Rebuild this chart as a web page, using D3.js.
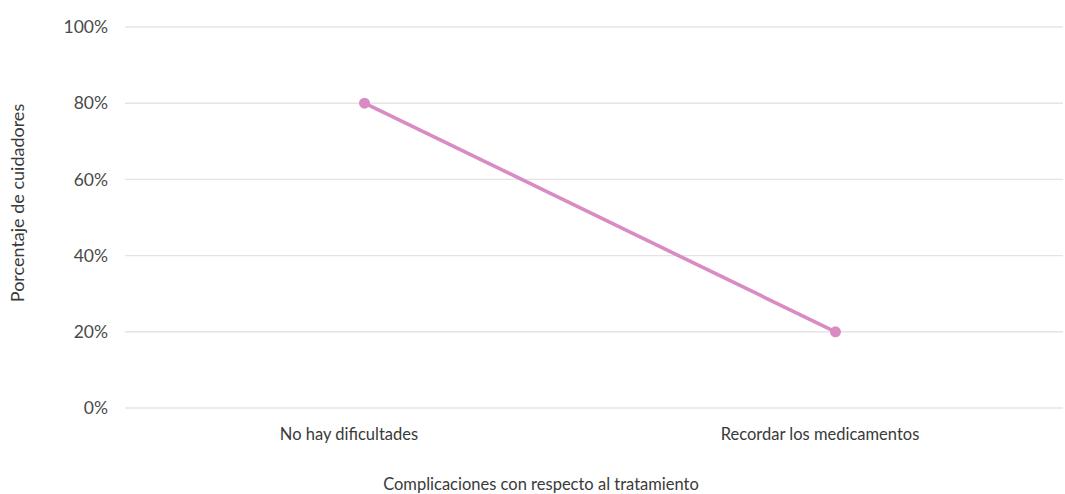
<!DOCTYPE html>
<html>
<head>
<meta charset="utf-8">
<script src="https://cdn.jsdelivr.net/npm/d3@7/dist/d3.min.js"></script>
<style>
  html, body { margin: 0; padding: 0; background: #ffffff; }
  svg { display: block; font-family: Lato, "Open Sans", sans-serif; }
</style>
</head>
<body>
<svg id="chart" width="1065" height="494"></svg>
<script>
// Data
const categories = ["No hay dificultades", "Recordar los medicamentos"];
const values = [0.80, 0.20];
const yTicks = [0, 0.2, 0.4, 0.6, 0.8, 1.0];
const xTitle = "Complicaciones con respecto al tratamiento";
const yTitle = "Porcentaje de cuidadores";

const svg = d3.select("#chart");
const margin = { left: 129, right: -6, top: 27, bottom: 86 };
const W = 1065, H = 494;

const x = d3.scalePoint()
  .domain(categories)
  .range([margin.left, W - margin.right])
  .padding(0.5);

const y = d3.scaleLinear()
  .domain([0, 1])
  .range([H - margin.bottom, margin.top]);

// Gridlines
svg.append("g")
  .selectAll("line")
  .data(yTicks)
  .join("line")
  .attr("x1", 125)
  .attr("x2", 1063)
  .attr("y1", d => y(d))
  .attr("y2", d => y(d))
  .attr("stroke", "#e4e4e4")
  .attr("stroke-width", 1.4);

// Y axis labels
const yAxis = d3.axisLeft(y)
  .tickValues(yTicks)
  .tickFormat(d3.format(".0%"))
  .tickSize(0)
  .tickPadding(0);
const gy = svg.append("g")
  .attr("transform", "translate(108,0)")
  .call(yAxis);
gy.select(".domain").remove();
gy.selectAll("text")
  .attr("font-family", "Lato, 'Open Sans', sans-serif")
  .attr("font-size", 17.5)
  .attr("fill", "#4a4a4a");

// X axis labels
const xAxis = d3.axisBottom(x).tickSize(0).tickPadding(0);
const gx = svg.append("g")
  .attr("transform", "translate(-16," + (H - margin.bottom + 20) + ")")
  .call(xAxis);
gx.select(".domain").remove();
gx.selectAll("text")
  .attr("font-family", "Lato, 'Open Sans', sans-serif")
  .attr("font-size", 16.5)
  .attr("fill", "#3a3a3a");

// Line
const line = d3.line()
  .x((d, i) => x(categories[i]))
  .y(d => y(d));

svg.append("path")
  .datum(values)
  .attr("d", line)
  .attr("fill", "none")
  .attr("stroke", "#d98bc4")
  .attr("stroke-width", 3.6)
  .attr("stroke-linecap", "round");

svg.append("g")
  .selectAll("circle")
  .data(values)
  .join("circle")
  .attr("cx", (d, i) => x(categories[i]))
  .attr("cy", d => y(d))
  .attr("r", 5.5)
  .attr("fill", "#d98bc4");

// Axis titles
svg.append("text")
  .attr("x", 541)
  .attr("y", 490)
  .attr("text-anchor", "middle")
  .attr("font-size", 16.5)
  .attr("fill", "#3a3a3a")
  .text(xTitle);

svg.append("text")
  .attr("transform", "translate(24,203) rotate(-90)")
  .attr("text-anchor", "middle")
  .attr("font-size", 18)
  .attr("fill", "#3a3a3a")
  .text(yTitle);
</script>
</body>
</html>
